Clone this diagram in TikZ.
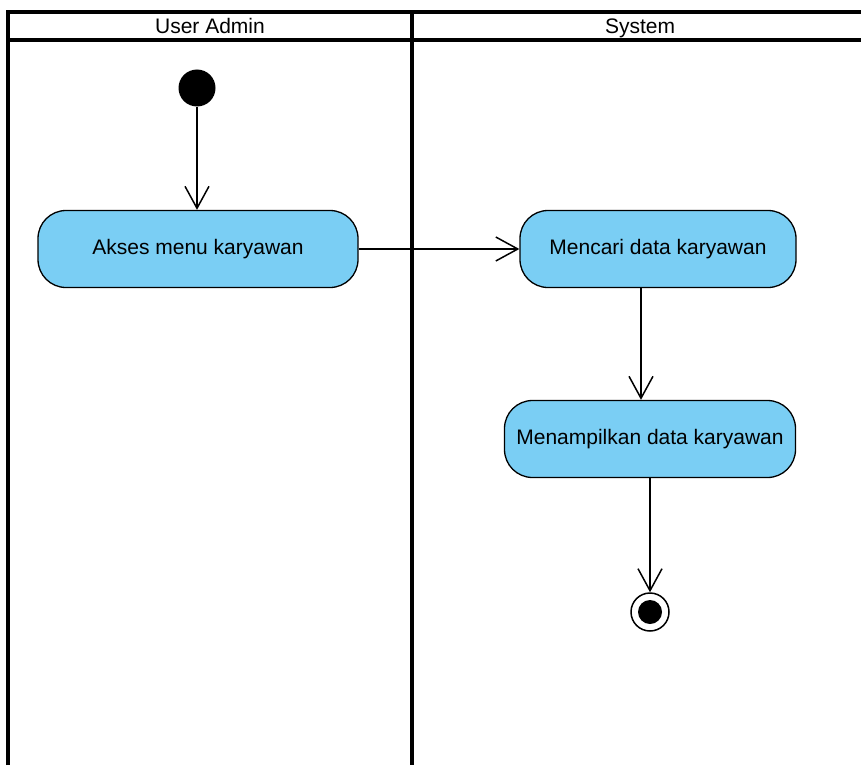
\documentclass[tikz,border=0pt]{standalone}
\usepackage{fontspec}
\setmainfont{Liberation Sans}
\usetikzlibrary{arrows.meta}
\definecolor{actfill}{RGB}{122,206,244}
\tikzset{
  lane/.style={line width=3.5pt},
  lanetitle/.style={font=\fontsize{21}{25}\selectfont, text height=15pt, text depth=4pt},
  activity/.style={draw, line width=1.3pt, fill=actfill, rounded corners=28pt,
    minimum height=77pt, inner sep=0pt, font=\fontsize{21}{25}\selectfont},
  flow/.style={line width=1.5pt, -{Straight Barb[length=22pt,width=24pt]}},
}
\begin{document}
\begin{tikzpicture}[x=1pt,y=-1pt]
    \useasboundingbox (0,0) rectangle (861,765) ;
    % swimlanes
    \draw[lane] (8,765) -- (8,12) -- (861,12) ;
    \draw[lane] (8,40) -- (861,40) ;
    \draw[lane] (412,12) -- (412,765) ;
    \node[lanetitle] (userlane) at (210,28.5) {User Admin} ;
    \node[lanetitle] (syslane) at (640,28.5) {System} ;
    % states
    \node[circle, fill=black, minimum size=37pt, inner sep=0pt] (start) at (197,88) {} ;
    \node[activity, minimum width=320pt] (akses) at (198,249) {Akses menu karyawan} ;
    \node[activity, minimum width=276pt] (cari) at (658,249) {Mencari data karyawan} ;
    \node[activity, minimum width=291pt] (tampil) at (650,439) {Menampilkan data karyawan} ;
    \node[circle, draw, line width=1.5pt, minimum size=38pt, inner sep=0pt] (stop) at (650,612) {} ;
    \node[circle, fill=black, minimum size=24pt, inner sep=0pt] (stopdot) at (stop) {} ;
    \coordinate (drop) at (641,0) ;
    % flows
    \draw[flow] (start) -- (start |- akses.north) ;
    \draw[flow] (akses) -- (cari) ;
    \draw[flow] (cari.south -| drop) -- (tampil.north -| drop) ;
    \draw[flow] (tampil) -- (stop) ;
  \end{tikzpicture}
\end{document}
